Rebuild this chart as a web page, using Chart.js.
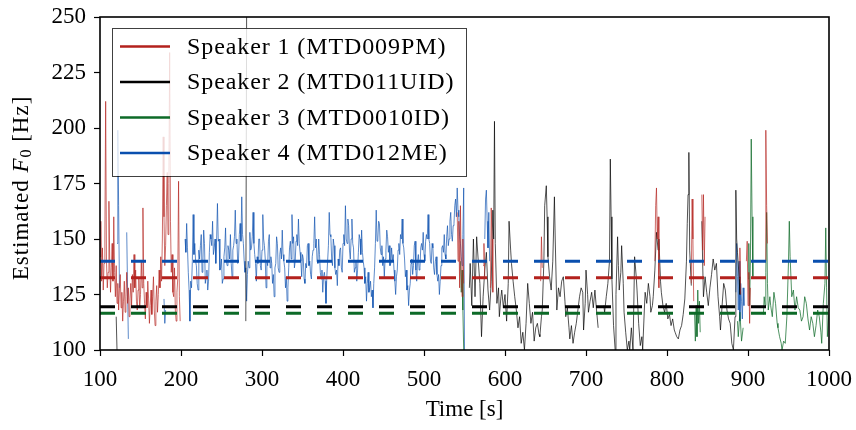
<!DOCTYPE html>
<html>
<head>
<meta charset="utf-8">
<script src="https://cdn.jsdelivr.net/npm/chart.js@4.4.1/dist/chart.umd.min.js"></script>
<style>
html,body{margin:0;padding:0;background:#fff;}
#wrap{width:856px;height:430px;}
</style>
</head>
<body>
<div id="wrap"><canvas id="c" width="856" height="430"></canvas></div>
<script>
// ---------- data (time [s], estimated F0 [Hz]); null breaks a track ----------
const xTicks = [100, 200, 300, 400, 500, 600, 700, 800, 900, 1000];
const yTicks = [100, 125, 150, 175, 200, 225, 250];
const speakerLabels = ['Speaker 1 (MTD009PM)', 'Speaker 2 (MTD011UID)', 'Speaker 3 (MTD0010ID)', 'Speaker 4 (MTD012ME)'];
const meanF0 = [132.5, 119.5, 116.5, 140];

const speaker1 = [
[100,142],[101,158],[102,131],[103,146],[104,127],[105,139],[106,150],[107,212],[108,140],[109,128],
[110,135],[111,167],[112,141],[113,126],[114,137],[115,148],[116,131],[117,160],[118,135],[119,124],
[120,138],[121,121],[122,130],[123,118],[124,127],[125,134],[126,119],[127,126],[128,113],[129,122],
[130,131],[131,117],[132,124],[133,135],[134,121],[135,128],[136,115],[137,123],[138,130],[139,120],
[140,134],[141,126],[142,143],[143,128],[144,136],[145,122],[146,118],[147,127],[148,132],[149,119],
[150,125],[151,140],[152,128],[153,164],[154,130],[155,121],[156,114],[157,126],[158,119],[159,131],
[160,123],[161,112],[162,120],[163,127],[164,116],[165,124],[166,133],[167,118],[168,111],[169,122],
[170,129],[171,117],[172,125],[173,136],[174,128],[175,142],[176,131],[177,150],[178,196],[179,160],
[180,138],[181,147],[182,165],[183,180],[184,152],[185,175],[186,234],[187,158],[188,135],[189,143],
[190,126],[191,124],[192,137],[193,118],[194,113],[195,126],[196,132],[197,176],[198,124],[199,113],
[200,null],
[541,162],[542,140],[543,158],[544,128],[545,165],[546,135],[547,124],[548,150],[549,130],[550,null],
[573,138],[574,148],[575,133],[576,null],[582,128],[583,164],[584,150],[585,126],[586,null],
[644,131],[645,151],[646,137],[647,null],
[785,140],[786,165],[787,173],[788,150],[789,160],[790,128],[791,null],
[830,130],[831,168],[832,150],[833,122],[834,null],
[843,170],[844,145],[845,170],[846,138],[847,160],[848,null],
[889,132],[890,146],[891,125],[892,null],
[898,140],[899,149],[900,120],[901,135],[902,112],[903,128],[904,null],
[921,140],[922,199],[923,165],[924,148],[925,null]
];

const speaker2 = [
[120,115],[121,100],[122,null],
[280,113],[281,250],[282,null],
[556,128],[557,139],[559,120],[561,150],[563,124],[565,151],[567,140],[569,130],[571,106],[573,124],
[575,136],[577,144],[579,127],[581,118],[583,131],[585,163],[586,150],[587,203],[588,148],[590,121],
[592,128],[593,115],[595,124],[596,127],[598,119],[600,125],[602,113],[604,130],[605,158],[607,145],
[608,139],[610,131],[612,124],[614,118],[616,110],[618,115],[620,103],[622,108],[624,100],[626,112],
[628,130],[630,121],[632,112],[634,117],[636,104],[638,110],[640,112],[642,107],[643,106],[645,115],
[646,118],[648,140],[649,165],[651,174],[652,160],[653,142],[655,133],[657,127],[659,140],[661,169],
[662,150],[664,118],[666,128],[668,124],[670,131],[672,133],[674,122],[675,115],[677,119],[679,110],
[680,105],[682,111],[684,103],[686,108],[688,112],[690,118],[692,124],[694,128],[696,126],[697,109],
[699,121],[700,136],[702,125],[703,117],[705,122],[707,126],[709,119],[711,127],[713,118],[715,110],
[716,null],
[722,120],[723,117],[725,124],[727,130],[729,140],[730,186],[731,160],[732,132],[734,111],[736,100],
[737,125],[739,151],[740,138],[741,127],[743,135],[744,147],[746,130],[747,117],[749,108],[751,100],
[753,104],[754,100],[756,110],[758,100],[759,120],[760,142],[762,133],[763,127],[765,112],[767,102],
[769,106],[770,100],[772,118],[773,126],[775,121],[777,130],[779,124],[780,117],[782,120],[783,124],
[785,136],[787,153],[789,145],[790,150],[792,131],[793,126],[795,120],[797,117],[799,121],[801,114],
[803,116],[805,111],[807,114],[809,109],[810,108],[812,106],[814,105],[816,109],[818,111],[820,116],
[822,123],[824,140],[825,157],[826,170],[827,189],[828,145],[830,129],[831,null],
[843,158],[844,140],[845,124],[847,133],[849,126],[851,120],[853,128],[855,134],[857,141],[859,136],
[861,139],[863,124],[865,115],[866,109],[868,120],[870,130],[872,127],[874,118],[876,114],[878,112],
[880,103],[882,100],[884,115],[885,172],[886,150],[887,144],[889,133],[890,125],[891,null]
];

const speaker3 = [
[545,140],[546,126],[547,136],[548,118],[549,100],[550,null],
[834,117],[835,104],[836,120],[837,106],[838,127],[839,112],[840,122],[841,108],[842,null],
[887,113],[888,106],[890,117],[892,104],[894,110],[895,null],
[900,132],[901,148],[902,120],[903,141],[904,195],[905,160],[906,133],[907,null],
[919,116],[920,124],[921,120],[922,135],[923,162],[924,130],[925,118],[927,124],[928,120],[930,115],
[932,126],[934,121],[936,112],[937,110],[939,106],[941,103],[942,100],[944,104],[946,103],[948,115],
[950,140],[951,158],[952,142],[954,124],[956,127],[958,118],[960,124],[962,119],[964,118],[966,113],
[968,115],[970,124],[972,121],[974,114],[976,109],[978,115],[980,112],[982,106],[984,111],[986,118],
[988,115],[990,108],[991,103],[993,121],[995,130],[996,155],[997,128],[998,106],[1000,118]
];

const speaker4 = [
[121,148],[122,199],[123,165],[124,128],[125,null],
[133,153],[134,128],[135,105],[136,null],
[179,123],[180,112],[181,118],[182,null],
[205,150],[206,144],[207,157],[208,146],[209,135],[210,127],[211,113],[212,131],[213,128],[214,140],
[215,161],[216,143],[217,148],[218,140],[219,138],[220,130],[221,127],[222,145],[223,141],[224,147],
[225,152],[226,135],[227,139],[228,154],[229,148],[230,130],[231,133],[232,136],[233,127],[234,131],
[235,144],[236,152],[237,150],[238,147],[239,158],[240,143],[241,146],[242,150],[243,139],[244,150],
[245,166],[246,149],[247,150],[248,136],[249,137],[250,141],[251,130],[252,132],[253,142],[254,146],
[255,155],[256,140],[257,138],[258,147],[259,145],[260,141],[261,152],[262,139],[263,133],[264,145],
[265,147],[266,151],[267,163],[268,148],[269,150],[270,139],[271,141],[272,152],[273,157],[274,149],
[275,169],[276,152],[277,148],[278,140],[279,135],[280,137],[281,122],[282,134],[283,140],[284,137],
[285,153],[286,145],[287,146],[288,151],[289,162],[290,148],[291,143],[292,139],[293,131],[294,142],
[295,139],[296,150],[297,150],[298,138],[299,136],[300,145],[301,161],[302,150],[303,147],[304,141],
[305,128],[306,140],[307,138],[308,149],[309,152],[310,137],[311,142],[312,139],[313,130],[314,134],
[315,124],[316,137],[317,139],[318,151],[319,148],[320,137],[321,135],[322,143],[323,146],[324,141],
[325,154],[326,143],[327,140],[328,137],[329,128],[330,133],[331,122],[332,128],[333,137],[334,146],
[335,149],[336,141],[337,161],[338,148],[339,151],[340,137],[341,140],[342,149],[343,152],[344,147],
[345,159],[346,148],[347,144],[348,140],[349,133],[350,143],[351,141],[352,132],[353,130],[354,139],
[355,137],[356,147],[357,148],[358,138],[359,140],[360,134],[361,132],[362,142],[363,145],[364,148],
[365,160],[366,146],[367,150],[368,140],[369,139],[370,150],[371,143],[372,135],[373,132],[374,136],
[375,126],[376,133],[377,135],[378,131],[379,121],[380,133],[381,140],[382,147],[383,162],[384,152],
[385,151],[386,141],[387,138],[388,150],[389,147],[390,137],[391,134],[392,136],[393,129],[394,141],
[395,138],[396,145],[397,146],[398,137],[399,135],[400,148],[401,152],[402,147],[403,165],[404,150],
[405,148],[406,159],[407,156],[408,145],[409,141],[410,150],[411,159],[412,148],[413,146],[414,135],
[415,137],[416,140],[417,131],[418,136],[419,144],[420,152],[421,150],[422,143],[423,154],[424,144],
[425,140],[426,137],[427,130],[428,133],[429,122],[430,130],[431,135],[432,126],[433,128],[434,131],
[435,124],[436,127],[437,119],[438,130],[439,137],[440,148],[441,163],[442,149],[443,150],[444,158],
[445,157],[446,146],[447,143],[448,147],[449,138],[450,142],[451,133],[452,141],[453,145],[454,154],
[455,151],[456,144],[457,147],[458,138],[459,139],[460,146],[461,140],[462,143],[463,136],[464,131],
[465,125],[466,133],[467,136],[468,145],[469,148],[470,143],[471,152],[472,150],[473,159],[474,148],
[475,146],[476,141],[477,133],[478,136],[479,127],[480,129],[481,120],[482,127],[483,130],[484,139],
[485,141],[486,134],[487,138],[488,147],[489,149],[490,136],[491,131],[492,140],[493,143],[494,136],
[495,137],[496,146],[497,148],[498,145],[499,153],[500,143],[501,140],[502,149],[503,152],[504,150],
[505,161],[506,150],[507,148],[508,140],[509,139],[510,148],[511,146],[512,137],[513,134],[514,140],
[515,142],[516,134],[517,131],[518,134],[519,125],[520,131],[521,138],[522,146],[523,147],[524,144],
[525,152],[526,143],[527,141],[528,151],[529,156],[530,147],[531,150],[532,158],[533,162],[534,152],
[535,149],[536,156],[537,157],[538,165],[539,168],[540,160],[541,173],[542,163],[543,160],[544,151],
[545,148],[546,142],[547,138],[548,152],[549,173],[550,100],[551,null],
[575,150],[576,168],[577,172],[578,158],[579,146],[580,162],[581,140],[582,null],
[885,126],[886,148],[887,133],[888,118],[889,140],[890,113],[891,130],[892,122],[893,114],[894,128],
[895,120],[896,null]
];

// ---------- styling ----------
const solid = ['#b3211d', '#000000', '#0c6a27', '#0a4fae'];
const faint = ['rgba(179,33,29,0.66)', 'rgba(0,0,0,0.68)', 'rgba(12,106,39,0.72)', 'rgba(10,79,174,0.66)'];
const FAM = "'Liberation Serif', 'Times New Roman', serif";

const tracks = [speaker1, speaker2, speaker3, speaker4];
const datasets = [];
tracks.forEach((tr, i) => {
  datasets.push({
    label: speakerLabels[i],
    data: tr.map(p => ({x: p[0], y: p[1]})),
    borderColor: faint[i], borderWidth: 1, pointRadius: 0, tension: 0,
    spanGaps: false, fill: false, order: 10
  });
});
[3, 0, 1, 2].forEach(i => {
  datasets.push({
    label: 'mean ' + (i + 1),
    data: [{x: xTicks[0], y: meanF0[i]}, {x: xTicks[xTicks.length - 1], y: meanF0[i]}],
    borderColor: solid[i], borderWidth: 3, borderDash: [15, 16], pointRadius: 0,
    fill: false, order: 1
  });
});

const framePlugin = {
  id: 'frame',
  afterDatasetsDraw(chart) {
    const {ctx, chartArea: a} = chart;
    ctx.save();
    ctx.strokeStyle = '#000'; ctx.lineWidth = 1.6;
    ctx.strokeRect(a.left, a.top, a.right - a.left, a.bottom - a.top);
    ctx.restore();
  }
};

const legendPlugin = {
  id: 'boxLegend',
  afterDraw(chart) {
    const ctx = chart.ctx;
    ctx.save();
    ctx.fillStyle = 'rgba(255,255,255,0.8)';
    ctx.fillRect(112, 28, 354, 148);
    ctx.strokeStyle = 'rgba(0,0,0,0.75)'; ctx.lineWidth = 1;
    ctx.strokeRect(112.5, 28.5, 354, 148);
    const rows = [46.5, 82, 117.5, 153];
    speakerLabels.forEach((lab, i) => {
      ctx.strokeStyle = solid[i]; ctx.lineWidth = 2.6;
      ctx.beginPath(); ctx.moveTo(120, rows[i]); ctx.lineTo(170, rows[i]); ctx.stroke();
      ctx.fillStyle = '#000';
      ctx.font = '24px ' + FAM;
      if ('letterSpacing' in ctx) ctx.letterSpacing = '0.9px';
      ctx.textAlign = 'left'; ctx.textBaseline = 'middle';
      ctx.fillText(lab, 187, rows[i] + 1);
    });
    ctx.restore();
  }
};

const yTitlePlugin = {
  id: 'yTitle',
  afterDraw(chart) {
    const ctx = chart.ctx;
    ctx.save();
    ctx.translate(22, 188);
    ctx.rotate(-Math.PI / 2);
    ctx.fillStyle = '#000';
    ctx.textBaseline = 'middle';
    ctx.textAlign = 'left';
    if ('letterSpacing' in ctx) ctx.letterSpacing = '1px';
    const parts = [
      {t: 'Estimated ', f: '23px ' + FAM, dy: 0},
      {t: 'F', f: 'italic 23px ' + FAM, dy: 0},
      {t: '0', f: '16px ' + FAM, dy: 5},
      {t: ' [Hz]', f: '23px ' + FAM, dy: 0}
    ];
    let total = 0;
    parts.forEach(p => { ctx.font = p.f; p.w = ctx.measureText(p.t).width; total += p.w; });
    let x = -total / 2;
    parts.forEach(p => { ctx.font = p.f; ctx.fillText(p.t, x, p.dy); x += p.w; });
    ctx.restore();
  }
};

new Chart(document.getElementById('c'), {
  type: 'line',
  data: {datasets},
  options: {
    responsive: false, animation: false, devicePixelRatio: 1,
    layout: {padding: {left: 0, right: 27, top: 17, bottom: 0}},
    plugins: {legend: {display: false}, tooltip: {enabled: false}},
    elements: {line: {borderCapStyle: 'butt'}},
    scales: {
      x: {
        type: 'linear', min: xTicks[0], max: xTicks[xTicks.length - 1],
        afterFit(s) { s.height = 80; s.paddingLeft = 0; s.paddingRight = 0; },
        afterBuildTicks(s) { s.ticks = xTicks.map(v => ({value: v})); },
        ticks: {color: '#000', font: {family: FAM, size: 23}, padding: 10, maxRotation: 0, autoSkip: false,
                callback: v => String(v)},
        grid: {drawOnChartArea: false, drawTicks: true, tickLength: 6, tickWidth: 1.2, tickColor: '#000'},
        border: {display: false},
        title: {display: true, text: 'Time [s]', color: '#000', font: {family: FAM, size: 23}, padding: {top: 0, bottom: 6}}
      },
      y: {
        type: 'linear', min: yTicks[0], max: yTicks[yTicks.length - 1],
        afterFit(s) { s.width = 100; s.paddingTop = 0; s.paddingBottom = 0; },
        afterBuildTicks(s) { s.ticks = yTicks.map(v => ({value: v})); },
        ticks: {color: '#000', font: {family: FAM, size: 23}, padding: 8, autoSkip: false,
                callback: v => String(v)},
        grid: {drawOnChartArea: false, drawTicks: true, tickLength: 6, tickWidth: 1.2, tickColor: '#000'},
        border: {display: false}
      }
    }
  },
  plugins: [framePlugin, legendPlugin, yTitlePlugin]
});
</script>
</body>
</html>
